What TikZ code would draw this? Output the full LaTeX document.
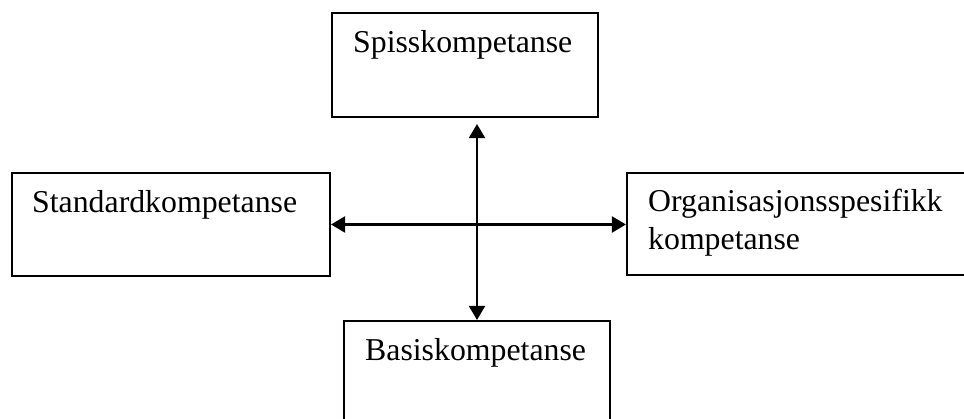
\documentclass[tikz,border=0pt]{standalone}
\usepackage{fontspec}
\setmainfont{Liberation Serif}
\usetikzlibrary{arrows.meta}
\begin{document}
\begin{tikzpicture}[x=1pt,y=-1pt,
  box/.style={draw=black,line width=2.1pt,rectangle,inner sep=0pt},
  label/.style={anchor=base west,inner sep=0pt,font=\fontsize{31.8}{38}\selectfont,align=left},
  link/.style={line width=2.1pt,{Triangle[length=14pt,width=16pt]}-{Triangle[length=14pt,width=16pt]}}]
  \useasboundingbox (0,0) rectangle (964,419);
  \clip (0,0) rectangle (964,419);

  % four competence boxes (right and lower boxes run past the frame)
  \node[box,minimum width=266pt,minimum height=104pt] (top)    at (465,65)    {};
  \node[box,minimum width=318pt,minimum height=103pt] (left)   at (171,224.5) {};
  \node[box,minimum width=352pt,minimum height=102pt] (right)  at (803,224)  {};
  \node[box,minimum width=266pt,minimum height=104pt] (bottom) at (477,373)  {};

  % box texts (a two-line node sits on the baseline of its last line)
  \node[label] (ttop)    at (353,53)  {Spisskompetanse};
  \node[label] (tleft)   at (32,213)  {Standardkompetanse};
  \node[label] (tright)  at (648,250) {Organisasjonsspesifikk\\kompetanse};
  \node[label] (tbottom) at (365,361) {Basiskompetanse};

  % double-headed connectors
  \coordinate (vtop) at ([yshift=-6pt]top.south -| bottom.north);
  \draw[link] (vtop) -- (bottom.north);
  \draw[link] (left.east) -- (right.west |- left.east);
\end{tikzpicture}
\end{document}
